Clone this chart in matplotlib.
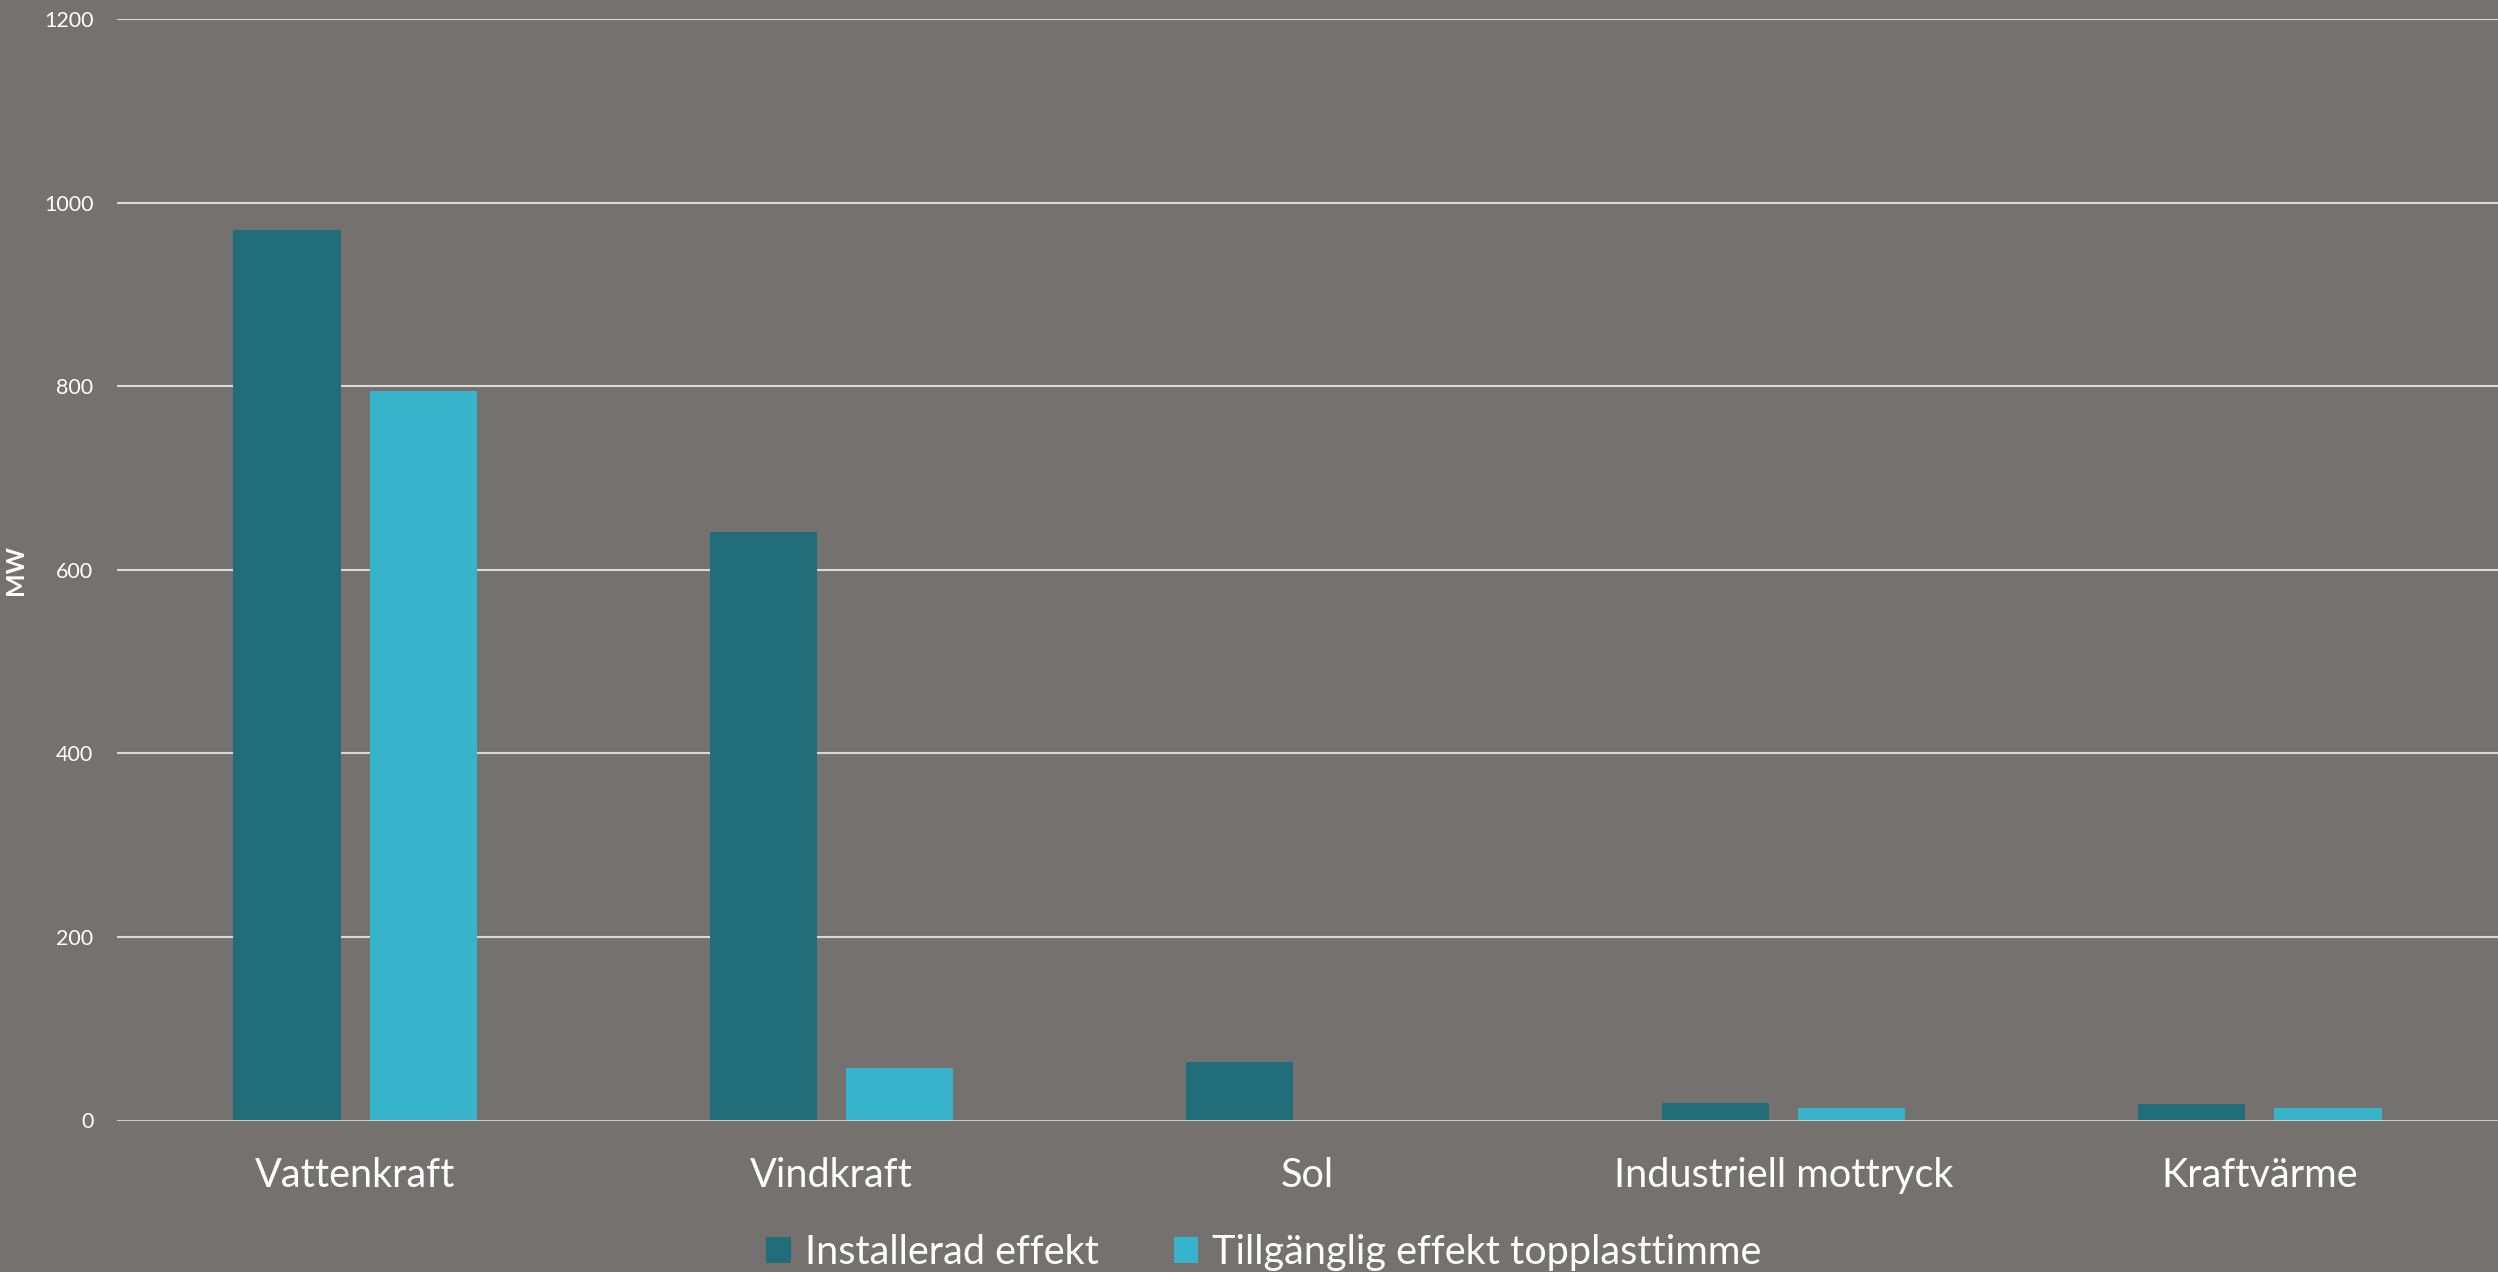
import matplotlib
matplotlib.use("Agg")
import matplotlib.pyplot as plt
import numpy as np

# installed capacity vs. capacity available at peak-load hour, MW
categories = ["Vattenkraft", "Vindkraft", "Sol", "Industriell mottryck", "Kraftvärme"]
installerad = [970, 641, 64, 19, 18]
tillganglig = [795, 57, 0, 14, 14]
series_names = ["Installerad effekt", "Tillgänglig effekt topplasttimme"]
yticks = [0, 200, 400, 600, 800, 1000, 1200]

BG = "#75716F"
DARK = "#216E7A"
LIGHT = "#37B3CB"
GRID = "#D9D9D9"

plt.rcParams["font.family"] = ["Lato", "DejaVu Sans"]

fig = plt.figure(figsize=(24.98, 12.72), dpi=100, facecolor=BG)
ax = fig.add_axes([117 / 2498, 151.5 / 1272, 1 - 117 / 2498, 1101.5 / 1272])
ax.set_facecolor(BG)

x = np.arange(len(categories))
w = 0.225
off = 0.143
ax.bar(x - off, installerad, w, color=DARK, label=series_names[0], zorder=2)
ax.bar(x + off, tillganglig, w, color=LIGHT, label=series_names[1], zorder=2)

ax.set_xlim(-0.5, len(categories) - 0.5)
ax.set_ylim(0, 1200)
ax.set_yticks(yticks)
for t in yticks[1:]:
    ax.axhline(t, color=GRID, lw=1.5, zorder=1)
ax.axhline(0, color=GRID, lw=2, zorder=3)

for s in ax.spines.values():
    s.set_visible(False)
ax.tick_params(axis="y", length=0, pad=17, labelsize=15.5, labelcolor="white")
ax.tick_params(axis="x", length=0, pad=26, labelsize=28.5, labelcolor="white")
ax.set_xticks(x)
ax.set_xticklabels(categories)

ax.set_ylabel("MW", color="white", fontsize=18, fontweight="bold", labelpad=12)

fig.legend(loc="lower center", bbox_to_anchor=(0.506, -0.027), ncol=2, frameon=False,
           fontsize=28.5, labelcolor="white", handlelength=0.62, handleheight=0.62,
           handletextpad=0.35, columnspacing=1.9)

fig.savefig("out.png", dpi=100, facecolor=BG)
